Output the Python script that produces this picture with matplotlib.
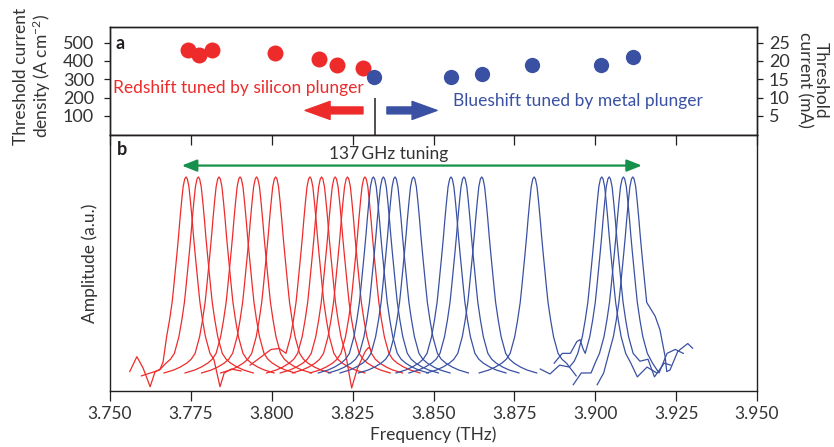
import matplotlib
matplotlib.use("Agg")
import matplotlib.pyplot as plt

plt.rcParams["font.family"] = ["Lato", "DejaVu Sans"]
plt.rcParams["font.weight"] = "normal"
plt.rcParams["mathtext.default"] = "regular"

# =========================
# data
# =========================
# panel a: threshold current density (A cm^-2) vs lasing frequency (THz)
red_freq = [3.7740, 3.7776, 3.7816, 3.8010, 3.8146, 3.8201, 3.8281]
red_jth = [460, 433, 458, 442, 410, 380, 362]
blue_freq = [3.8316, 3.8553, 3.8649, 3.8804, 3.9019, 3.9118]
blue_jth = [310, 315, 329, 377, 377, 424]

divide_freq = 3.8318       # untuned frequency
red_arrow = (3.8282, 3.8103)
blue_arrow = (3.8356, 3.8511)
arrow_level = 130

# panel b: spectra, peak positions (THz)
red_peaks = [3.7735, 3.7773, 3.7837, 3.7902, 3.7953, 3.8012,
             3.8118, 3.8154, 3.8196, 3.8234, 3.8288]
blue_peaks = [3.8314, 3.8345, 3.8381, 3.8438, 3.8554, 3.8594,
              3.8649, 3.8811, 3.9020, 3.9043, 3.9087, 3.9116]

# measured line shape, one side (offset in GHz, normalised amplitude)
line_dx = [0, 0.4, 0.9, 1.4, 1.9, 2.3, 2.8, 3.3, 3.8, 4.3, 5.1, 6.0,
           7.4, 8.6, 10, 12, 14, 17]
line_amp = [1.0, 0.99, 0.95, 0.87, 0.78, 0.70, 0.61, 0.525, 0.44, 0.36,
            0.27, 0.185, 0.10, 0.07, 0.05, 0.03, 0.015, 0.0]

# where each trace leaves the common shape (GHz) and its noisy tails
red_lo = [-6.0, -10, -17, -17, -17, -17, -7.4, -17, -17, -17, -17]
red_hi = [8.6, 17, 17, 17, 17, 17, 17, 7.4, 17, 17, 17]
red_left = [
    [(-17.4, 0.007), (-15.2, 0.083), (-13.3, 0.026), (-11.1, -0.07),
     (-9.6, 0.005), (-8.0, 0.02), (-7.1, 0.056)],
    [(-17.6, -0.015), (-12, 0.015)],
    [], [], [], [],
    [(-18.5, 0.04), (-12, 0.12), (-9.5, 0.125)],
    [], [], [], [],
]
red_right = [
    [(10.5, -0.07), (11.8, 0.0), (14, 0.02), (17, 0.01)],
    [], [], [], [], [], [],
    [(9.3, -0.077), (11, 0.02), (13.5, 0.11), (14.5, 0.13), (15.2, 0.12)],
    [], [], [],
]

blue_lo = [-17, -17, -17, -17, -17, -17, -17, -17, -7.4, -7.4, -7.4, -7.4]
blue_hi = [17, 17, 17, 17, 17, 17, 17, 11, 7.4, 7.4, 7.4, 3.3]
blue_left = [
    [], [], [], [], [], [], [], [],
    [(-19, 0.02), (-16, -0.005), (-13, 0.04), (-10, 0.03), (-8.5, 0.06)],
    [(-17, 0.05), (-14.5, 0.1), (-12, 0.1), (-10, 0.16), (-9, 0.17), (-8, 0.12)],
    [(-15.5, -0.06), (-13, 0.0), (-10, 0.0), (-8.5, 0.06)],
    [(-11, -0.06), (-9, 0.0)],
]
blue_right = [
    [], [], [], [], [], [], [],
    [(13, -0.015)],
    [(9, 0.05), (11, -0.02), (14, 0.03), (17, 0.0)],
    [(9.5, 0.06), (12, 0.07), (14, -0.02), (17, 0.05), (19, 0.04)],
    [(9, 0.05), (11, 0.0), (13.5, 0.1), (16, 0.12), (18.5, 0.1)],
    [(4.3, 0.36), (6.9, 0.29), (8.4, 0.22), (10, 0.083), (10.5, 0.007),
     (11.5, 0.015), (13.9, 0.11), (17, 0.15), (18.5, 0.126)],
]

tuning_range = (3.7722, 3.9144)

freq_ticks = [3.750, 3.775, 3.800, 3.825, 3.850, 3.875, 3.900, 3.925, 3.950]
jth_ticks = [100, 200, 300, 400, 500]
ith_ticks = [5, 10, 15, 20, 25]

RED = "#ee2b2b"
BLUE = "#3a51a3"
GREEN = "#16904a"
TXT = "#333333"
DARK = "#231f20"


def trace(f0, lo, hi, left, right):
    dx = [-d for d in reversed(line_dx[1:])] + line_dx
    amp = list(reversed(line_amp[1:])) + line_amp
    core = [(d, a) for d, a in zip(dx, amp) if lo <= d <= hi]
    pts = left + core + right
    return [f0 + d / 1000 for d, _ in pts], [a for _, a in pts]


fig = plt.figure(figsize=(8.34, 4.47), dpi=100)
ax_a = fig.add_axes([0.1319, 0.698, 0.7758, 0.2416])
ax_b = fig.add_axes([0.1319, 0.1253, 0.7758, 0.5727])

# =========================
# panel a
# =========================
ax_a.plot(red_freq, red_jth, "o", color=RED, ms=11.5, mec="none")
ax_a.plot(blue_freq, blue_jth, "o", color=BLUE, ms=11, mec="none")
ax_a.set_xlim(3.75, 3.95)
ax_a.set_ylim(-4, 585)
ax_a.set_yticks(jth_ticks)
ax_a.set_xticks([])
ax_a.tick_params(axis="y", direction="out", length=4.5, width=0.9,
                 labelsize=13, pad=7, colors=DARK, labelcolor=TXT)

ax_r = ax_a.twinx()
ax_r.set_ylim(-4 / 20, 585 / 20)
ax_r.set_yticks(ith_ticks)
ax_r.tick_params(axis="y", direction="out", length=4.5, width=0.9,
                 labelsize=13, pad=4, colors=DARK, labelcolor=TXT)

ax_a.vlines(divide_freq, -4, 198, color=DARK, lw=1.1)
ax_a.annotate("", xy=(red_arrow[1], arrow_level), xytext=(red_arrow[0], arrow_level),
              arrowprops=dict(arrowstyle="simple,head_length=1.8,head_width=1.3,tail_width=0.5",
                              color=RED, mutation_scale=10, shrinkA=0, shrinkB=0))
ax_a.annotate("", xy=(blue_arrow[1], arrow_level), xytext=(blue_arrow[0], arrow_level),
              arrowprops=dict(arrowstyle="simple,head_length=1.8,head_width=1.3,tail_width=0.5",
                              color=BLUE, mutation_scale=10, shrinkA=0, shrinkB=0))
ax_a.text(3.7509, 253, "Redshift tuned by silicon plunger", color=RED,
          fontsize=12.5, va="center", ha="left")
ax_a.text(3.8560, 184, "Blueshift tuned by metal plunger", color=BLUE,
          fontsize=12.5, va="center", ha="left")
ax_a.text(0.009, 0.93, "a", transform=ax_a.transAxes, fontsize=13,
          fontweight="bold", va="top", ha="left", color=DARK)

# =========================
# panel b
# =========================
for i, f0 in enumerate(red_peaks):
    x, y = trace(f0, red_lo[i], red_hi[i], red_left[i], red_right[i])
    ax_b.plot(x, y, color=RED, lw=0.9)
for i, f0 in enumerate(blue_peaks):
    x, y = trace(f0, blue_lo[i], blue_hi[i], blue_left[i], blue_right[i])
    ax_b.plot(x, y, color=BLUE, lw=0.9)

ax_b.annotate("", xy=(tuning_range[0], 1.058), xytext=(tuning_range[1], 1.058),
              arrowprops=dict(arrowstyle="<|-|>,head_length=0.9,head_width=0.36",
                              color=GREEN, lw=1.6, mutation_scale=10,
                              shrinkA=0, shrinkB=0))
ax_b.text(3.836, 1.117, "137\u2009GHz tuning", color=TXT, fontsize=12.5,
          ha="center", va="center")
ax_b.text(0.011, 0.975, "b", transform=ax_b.transAxes, fontsize=13,
          fontweight="bold", va="top", ha="left", color=DARK)

ax_b.set_xlim(3.75, 3.95)
ax_b.set_ylim(-0.092, 1.214)
ax_b.set_yticks([])
ax_b.set_xticks(freq_ticks)
ax_b.set_xticklabels([f"{t:.3f}" for t in freq_ticks])
ax_b.tick_params(axis="x", direction="out", length=7, width=0.9,
                 labelsize=12.5, pad=4, colors=DARK, labelcolor=TXT,
                 top=True)
ax_b.set_xlabel("Frequency (THz)", fontsize=12.5, color=TXT, labelpad=3)

for ax in (ax_a, ax_b, ax_r):
    for s in ax.spines.values():
        s.set_color(DARK)
        s.set_linewidth(1.0)

# top ticks of panel b point inward
for t in ax_b.xaxis.get_major_ticks():
    t.tick2line.set_marker(3)
    t.tick2line.set_markersize(7)

# axis titles
fig.text(33 / 834, 1 - 76 / 447, "Threshold current\ndensity (A cm$^{-2}$)",
         rotation=90, ha="center", va="center", fontsize=12.5, color=TXT,
         linespacing=1.05)
fig.text(813 / 834, 1 - 80 / 447, "Threshold\ncurrent (mA)",
         rotation=270, ha="center", va="center", fontsize=12.5, color=TXT,
         linespacing=1.0)
fig.text(90 / 834, 1 - 263 / 447, "Amplitude (a.u.)", rotation=90,
         ha="center", va="center", fontsize=12.5, color=TXT)

plt.savefig("out.png", dpi=100)
